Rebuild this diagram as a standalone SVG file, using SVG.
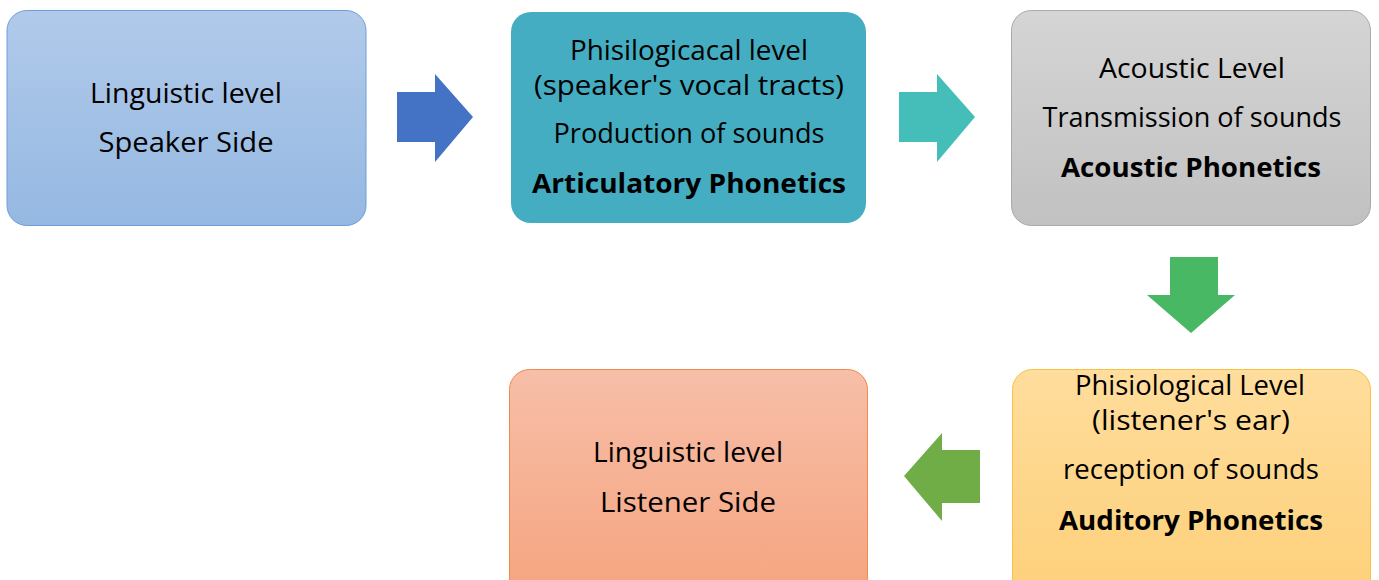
<svg xmlns="http://www.w3.org/2000/svg" width="1379" height="580" viewBox="0 0 1379 580">
<defs>
<linearGradient id="gBlue" x1="0" y1="0" x2="0" y2="1"><stop offset="0" stop-color="#b1caea"/><stop offset="1" stop-color="#95b8e2"/></linearGradient>
<linearGradient id="gGray" x1="0" y1="0" x2="0" y2="1"><stop offset="0" stop-color="#d5d5d5"/><stop offset="1" stop-color="#c1c1c1"/></linearGradient>
<linearGradient id="gYellow" x1="0" y1="0" x2="0" y2="1"><stop offset="0" stop-color="#ffdd9c"/><stop offset="1" stop-color="#fdd07a"/></linearGradient>
<linearGradient id="gOrange" x1="0" y1="0" x2="0" y2="1"><stop offset="0" stop-color="#f7bea8"/><stop offset="1" stop-color="#f5a47f"/></linearGradient>
</defs>
<style>
text{font-family:"Comic Sans MS","Open Sans","DejaVu Sans",sans-serif;font-size:26.5px;fill:#000;text-anchor:middle}
.b{font-weight:bold}
</style>
<g id="connectors">
<polygon points="397,92 435,92 435,74 473,117 435,162 435,142 397,142" fill="#4472c4"/>
<polygon points="899,92 937,92 937,74 975,117 937,162 937,142 899,142" fill="#45bdb8"/>
<polygon points="1170,257 1218,257 1218,295 1235,295 1191,333 1147,295 1170,295" fill="#48b865"/>
<polygon points="980,450 942,450 942,433 904,476 942,521 942,503 980,503" fill="#70ad47"/>
</g>
<g id="node-speaker">
<rect x="7" y="10.5" width="359" height="215" rx="20" fill="url(#gBlue)" stroke="#6d9fd8" stroke-width="1"/>
<text x="186" y="103" textLength="192" lengthAdjust="spacingAndGlyphs">Linguistic level</text>
<text x="186" y="152" textLength="175" lengthAdjust="spacingAndGlyphs">Speaker Side</text>
</g>
<g id="node-articulatory">
<rect x="511" y="12" width="355" height="211" rx="20" fill="#44adc1"/>
<text x="689" y="60" textLength="238" lengthAdjust="spacingAndGlyphs">Phisilogicacal level</text>
<text x="689" y="95" textLength="310" lengthAdjust="spacingAndGlyphs">(speaker's vocal tracts)</text>
<text x="689" y="143" textLength="271" lengthAdjust="spacingAndGlyphs">Production of sounds</text>
<text x="689" y="193" class="b" textLength="314" lengthAdjust="spacingAndGlyphs">Articulatory Phonetics</text>
</g>
<g id="node-acoustic">
<rect x="1011.5" y="10.5" width="359" height="215" rx="20" fill="url(#gGray)" stroke="#a9a9a9" stroke-width="1"/>
<text x="1192" y="78" textLength="186" lengthAdjust="spacingAndGlyphs">Acoustic Level</text>
<text x="1192" y="127" textLength="299" lengthAdjust="spacingAndGlyphs">Transmission of sounds</text>
<text x="1191" y="177" class="b" textLength="260" lengthAdjust="spacingAndGlyphs">Acoustic Phonetics</text>
</g>
<g id="node-auditory">
<rect x="1012.5" y="369.5" width="358" height="230" rx="20" fill="url(#gYellow)" stroke="#f7c244" stroke-width="1"/>
<text x="1190" y="395" textLength="230" lengthAdjust="spacingAndGlyphs">Phisiological Level</text>
<text x="1191" y="430" textLength="198" lengthAdjust="spacingAndGlyphs">(listener's ear)</text>
<text x="1191" y="479" textLength="256" lengthAdjust="spacingAndGlyphs">reception of sounds</text>
<text x="1191" y="530" class="b" textLength="264" lengthAdjust="spacingAndGlyphs">Auditory Phonetics</text>
</g>
<g id="node-listener">
<rect x="509.5" y="369.5" width="358" height="230" rx="20" fill="url(#gOrange)" stroke="#ee8a4c" stroke-width="1"/>
<text x="688" y="462" textLength="190" lengthAdjust="spacingAndGlyphs">Linguistic level</text>
<text x="688" y="512" textLength="176" lengthAdjust="spacingAndGlyphs">Listener Side</text>
</g>
</svg>
